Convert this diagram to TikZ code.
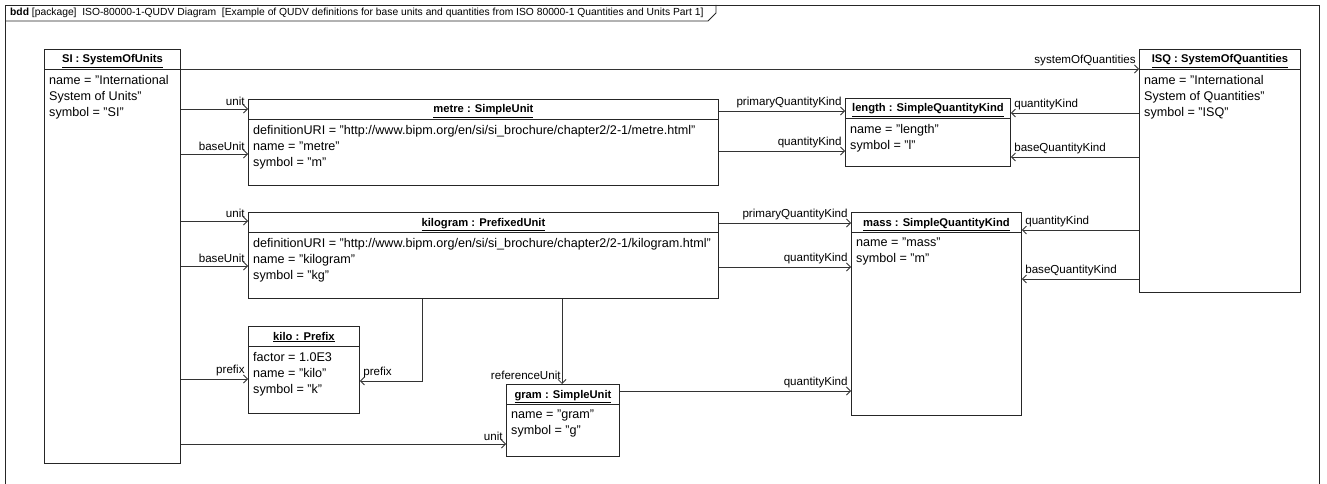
\documentclass[tikz,border=0pt]{standalone}
\usepackage{fontspec}
\setmainfont{Liberation Sans}
\usepackage{tikz}
\usetikzlibrary{positioning, arrows.meta, calc}

\begin{document}
\begin{tikzpicture}[
  x=1pt, y=-1pt,
  obj/.style={draw=black!85, line width=0.9pt, fill=white,
              anchor=north west, inner sep=0pt},
  objname/.style={anchor=base, inner sep=0pt,
                  font=\fontsize{11.2}{16}\selectfont\bfseries},
  slots/.style={anchor=north west, inner sep=0pt, align=left,
                font=\fontsize{12.6}{16}\selectfont},
  sep/.style={draw=black!85, line width=0.9pt},
  arr/.style={-{Straight Barb[length=4pt, width=8pt]}, draw=black!80, line width=0.8pt},
  lbl/.style={font=\fontsize{11.6}{13}\selectfont, inner xsep=3pt, inner ysep=2.5pt}
]
\useasboundingbox (0,0) rectangle (1327,484);

% diagram frame
\draw[sep] (5,5) rectangle (1319,495);
\draw[sep] (5,21) -- (708,21) -- (716,13) -- (716,5);
\node[anchor=base west, inner sep=0pt, font=\fontsize{10.3}{12}\selectfont] (hdr) at (10,16)
  {\textbf{bdd} [package]\ \ ISO-80000-1-QUDV Diagram\ \ [Example of QUDV definitions for base units and quantities from ISO 80000-1 Quantities and Units Part 1]};

% SI
\node[obj, minimum width=136pt, minimum height=414pt] (si) at (44,49) {};
\node[objname] (si-n) at ($(si.north)+(0,14)$) {\underline{SI : SystemOfUnits}};
\draw[sep] ($(si.north west)+(0,20)$) -- ($(si.north east)+(0,20)$);
\node[slots] (si-a) at ($(si.north west)+(5,26)$) {name = "International\\System of Units"\\symbol = "SI"};

% ISQ
\node[obj, minimum width=161pt, minimum height=243pt] (isq) at (1139,49) {};
\node[objname] (isq-n) at ($(isq.north)+(0,14)$) {\underline{ISQ : SystemOfQuantities}};
\draw[sep] ($(isq.north west)+(0,20)$) -- ($(isq.north east)+(0,20)$);
\node[slots] (isq-a) at ($(isq.north west)+(5,26)$) {name = "International\\System of Quantities"\\symbol = "ISQ"};

% metre
\node[obj, minimum width=470pt, minimum height=86pt] (metre) at (248,99) {};
\node[objname] (metre-n) at ($(metre.north)+(0,14)$) {\underline{metre : SimpleUnit}};
\draw[sep] ($(metre.north west)+(0,20)$) -- ($(metre.north east)+(0,20)$);
\node[slots] (metre-a) at ($(metre.north west)+(5,26)$) {definitionURI = "http://www.bipm.org/en/si/si\_brochure/chapter2/2-1/metre.html"\\name = "metre"\\symbol = "m"};

% length
\node[obj, minimum width=165pt, minimum height=68pt] (len) at (845,98) {};
\node[objname] (len-n) at ($(len.north)+(0,14)$) {\underline{length : SimpleQuantityKind}};
\draw[sep] ($(len.north west)+(0,20)$) -- ($(len.north east)+(0,20)$);
\node[slots] (len-a) at ($(len.north west)+(5,26)$) {name = "length"\\symbol = "l"};

% kilogram
\node[obj, minimum width=470pt, minimum height=86pt] (kg) at (248,212) {};
\node[objname] (kg-n) at ($(kg.north)+(0,14)$) {\underline{kilogram : PrefixedUnit}};
\draw[sep] ($(kg.north west)+(0,20)$) -- ($(kg.north east)+(0,20)$);
\node[slots] (kg-a) at ($(kg.north west)+(5,26)$) {definitionURI = "http://www.bipm.org/en/si/si\_brochure/chapter2/2-1/kilogram.html"\\name = "kilogram"\\symbol = "kg"};

% mass
\node[obj, minimum width=170pt, minimum height=203pt] (mass) at (851,212) {};
\node[objname] (mass-n) at ($(mass.north)+(0,14)$) {\underline{mass : SimpleQuantityKind}};
\draw[sep] ($(mass.north west)+(0,20)$) -- ($(mass.north east)+(0,20)$);
\node[slots] (mass-a) at ($(mass.north west)+(5,26)$) {name = "mass"\\symbol = "m"};

% kilo
\node[obj, minimum width=111pt, minimum height=87pt] (kilo) at (248,326) {};
\node[objname] (kilo-n) at ($(kilo.north)+(0,14)$) {\underline{kilo : Prefix}};
\draw[sep] ($(kilo.north west)+(0,20)$) -- ($(kilo.north east)+(0,20)$);
\node[slots] (kilo-a) at ($(kilo.north west)+(5,26)$) {factor = 1.0E3\\name = "kilo"\\symbol = "k"};

% gram
\node[obj, minimum width=113pt, minimum height=72pt] (gram) at (506,384) {};
\node[objname] (gram-n) at ($(gram.north)+(0,14)$) {\underline{gram : SimpleUnit}};
\draw[sep] ($(gram.north west)+(0,20)$) -- ($(gram.north east)+(0,20)$);
\node[slots] (gram-a) at ($(gram.north west)+(5,26)$) {name = "gram"\\symbol = "g"};

% links from SI
\draw[arr] (si.east |- 0,69) -- node[lbl, pos=1, above left] {systemOfQuantities} (isq.west |- 0,69);
\draw[arr] (si.east |- 0,109) -- node[lbl, pos=1, above left] {unit} (metre.west |- 0,109);
\draw[arr] (si.east |- 0,154) -- node[lbl, pos=1, above left] {baseUnit} (metre.west |- 0,154);
\draw[arr] (si.east |- 0,221) -- node[lbl, pos=1, above left] {unit} (kg.west |- 0,221);
\draw[arr] (si.east |- 0,266) -- node[lbl, pos=1, above left] {baseUnit} (kg.west |- 0,266);
\draw[arr] (si.east |- 0,379) -- node[lbl, pos=1, above left] {prefix} (kilo.west |- 0,379);
\draw[arr] (si.east |- 0,444) -- node[lbl, pos=1, above left] {unit} (gram.west |- 0,444);

% units to quantity kinds
\draw[arr] (metre.east |- 0,111) -- node[lbl, pos=1, above left] {primaryQuantityKind} (len.west |- 0,111);
\draw[arr] (metre.east |- 0,151) -- node[lbl, pos=1, above left] {quantityKind} (len.west |- 0,151);
\draw[arr] (kg.east |- 0,223) -- node[lbl, pos=1, above left] {primaryQuantityKind} (mass.west |- 0,223);
\draw[arr] (kg.east |- 0,267) -- node[lbl, pos=1, above left] {quantityKind} (mass.west |- 0,267);
\draw[arr] (gram.east |- 0,391) -- node[lbl, pos=1, above left] {quantityKind} (mass.west |- 0,391);

% links from ISQ
\draw[arr] (isq.west |- 0,113) -- node[lbl, pos=1, above right] {quantityKind} (len.east |- 0,113);
\draw[arr] (isq.west |- 0,157) -- node[lbl, pos=1, above right] {baseQuantityKind} (len.east |- 0,157);
\draw[arr] (isq.west |- 0,230) -- node[lbl, pos=1, above right] {quantityKind} (mass.east |- 0,230);
\draw[arr] (isq.west |- 0,279) -- node[lbl, pos=1, above right] {baseQuantityKind} (mass.east |- 0,279);

% kilogram to prefix and reference unit
\draw[arr] (kg.south -| 422,0) |- node[lbl, pos=1, above right] {prefix} (kilo.east |- 0,381);
\draw[arr] (kg.south -| 562,0) -- node[lbl, pos=1, above left, xshift=2pt, yshift=1pt] {referenceUnit} (gram.north -| 562,0);
\end{tikzpicture}
\end{document}
